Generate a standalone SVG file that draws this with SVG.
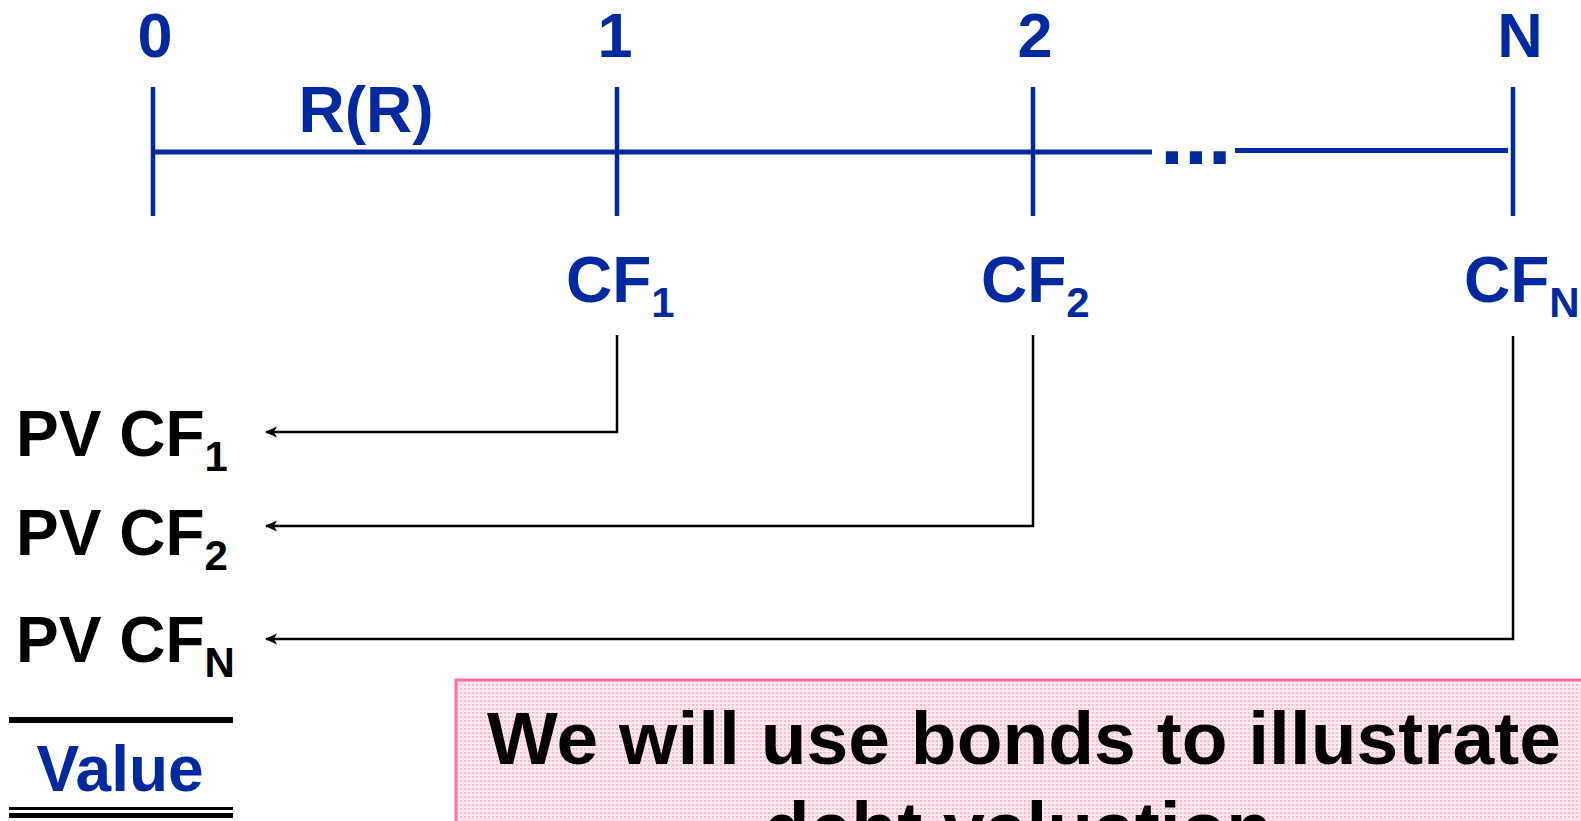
<svg xmlns="http://www.w3.org/2000/svg" width="1581" height="821" viewBox="0 0 1581 821">
<style>
.blue{fill:#0029A0;font-family:"Liberation Sans",Arial,sans-serif;font-weight:bold}
.blk{fill:#000;font-family:"Liberation Sans",Arial,sans-serif;font-weight:bold}
.tl{stroke:#0029A0;fill:none}
.conn{stroke:#000;stroke-width:2.5;fill:none;marker-end:url(#arr)}
</style>
<defs>
<marker id="arr" markerWidth="14" markerHeight="14" refX="11" refY="6" orient="auto" markerUnits="userSpaceOnUse">
<path d="M12,6 L0,0.5 L3,6 L0,11.5 Z" fill="#000"/>
</marker>
<pattern id="dots" width="4" height="4" patternUnits="userSpaceOnUse">
<rect width="4" height="4" fill="#FFE8F1"/>
<rect x="0" y="0" width="2" height="2" fill="#FFB8D2"/>
</pattern>
</defs>
<rect width="1581" height="821" fill="#fff"/>

<g id="timeline">
<line class="tl" x1="153" y1="152" x2="1152" y2="152" stroke-width="5"/>
<line class="tl" x1="1235" y1="150.5" x2="1508" y2="150.5" stroke-width="5"/>
<line class="tl" x1="153" y1="87" x2="153" y2="216" stroke-width="4.5"/>
<line class="tl" x1="617" y1="87" x2="617" y2="216" stroke-width="4.5"/>
<line class="tl" x1="1033" y1="87" x2="1033" y2="216" stroke-width="4.5"/>
<line class="tl" x1="1513" y1="87" x2="1513" y2="216" stroke-width="4.5"/>
<text class="blue" x="1160" y="164" font-size="86">...</text>
</g>

<g id="t0"><text class="blue" x="155" y="57" font-size="63" text-anchor="middle">0</text></g>
<g id="t1"><text class="blue" x="615" y="57" font-size="63" text-anchor="middle">1</text></g>
<g id="t2"><text class="blue" x="1035" y="57" font-size="63" text-anchor="middle">2</text></g>
<g id="tN"><text class="blue" x="1520" y="57" font-size="63" text-anchor="middle">N</text></g>
<g id="rate"><text class="blue" x="366" y="132" font-size="64" text-anchor="middle">R(R)</text></g>

<g id="cf1"><text class="blue" x="566" y="302" font-size="64">CF<tspan font-size="42" dy="15">1</tspan></text></g>
<g id="cf2"><text class="blue" x="981" y="302" font-size="64">CF<tspan font-size="42" dy="15">2</tspan></text></g>
<g id="cfN"><text class="blue" x="1464" y="302" font-size="64">CF<tspan font-size="42" dy="15">N</tspan></text></g>

<g id="pv1"><text class="blk" x="16" y="456" font-size="64">PV CF<tspan font-size="42" dy="15">1</tspan></text></g>
<g id="pv2"><text class="blk" x="16" y="555" font-size="64">PV CF<tspan font-size="42" dy="15">2</tspan></text></g>
<g id="pvN"><text class="blk" x="16" y="662" font-size="64">PV CF<tspan font-size="42" dy="15">N</tspan></text></g>

<g id="connectors">
<path class="conn" d="M617,335 V432 H266"/>
<path class="conn" d="M1033,335 V526 H266"/>
<path class="conn" d="M1513,336 V639 H266"/>
</g>

<g id="value">
<rect x="9" y="717" width="224" height="6" fill="#000"/>
<text class="blue" x="120" y="791" font-size="64" text-anchor="middle">Value</text>
<rect x="9" y="807" width="224" height="3" fill="#000"/>
<rect x="9" y="813" width="224" height="5" fill="#000"/>
</g>

<g id="note">
<rect x="456" y="680" width="1140" height="160" fill="url(#dots)" stroke="#FF6E9E" stroke-width="3"/>
<text class="blk" x="1024" y="764" font-size="75" text-anchor="middle">We will use bonds to illustrate</text>
<text class="blk" x="1018" y="854" font-size="75" text-anchor="middle">debt valuation</text>
</g>
</svg>
